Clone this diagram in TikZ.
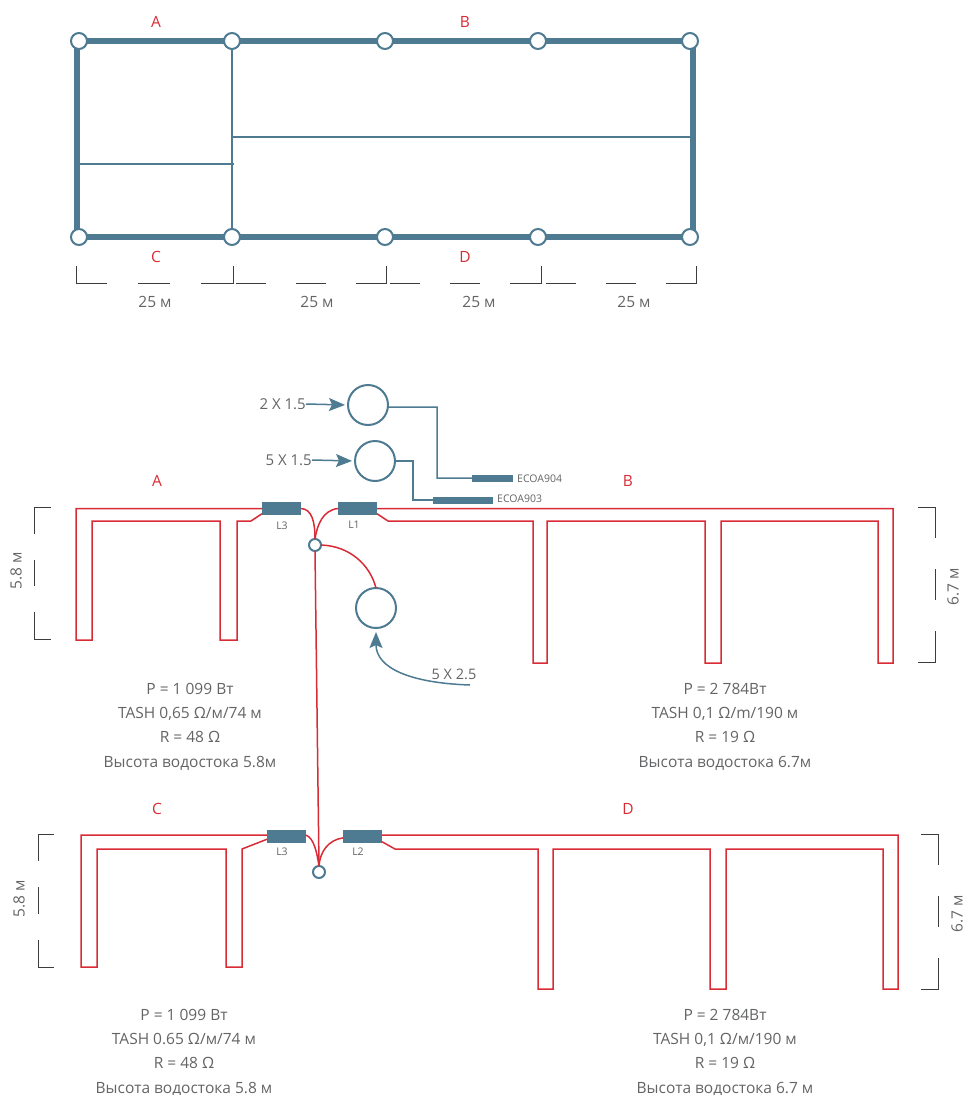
\documentclass[tikz,border=0pt]{standalone}
\usepackage{fontspec}
\setmainfont{Open Sans}
\usetikzlibrary{arrows.meta,shapes}

\definecolor{wallcol}{HTML}{4E7B91}
\definecolor{ductcol}{HTML}{D92B35}
\definecolor{textcol}{HTML}{636466}
\definecolor{markcol}{HTML}{3C3C3E}

\begin{document}
\begin{tikzpicture}[x=1pt,y=-1pt,>={Stealth[length=16pt,width=13pt,inset=3pt]}]
  \tikzset{
    post/.style={circle,draw=wallcol,fill=white,line width=2pt,minimum size=16pt,inner sep=0pt,outer sep=0pt},
    joint/.style={circle,draw=wallcol,fill=white,line width=2pt,minimum size=12pt,inner sep=0pt,outer sep=0pt},
    fan/.style={circle,draw=wallcol,line width=2pt,minimum size=40pt,inner sep=0pt,outer sep=0pt},
    wall/.style={draw=wallcol,line width=6.5pt},
    thin wall/.style={draw=wallcol,line width=1.5pt},
    duct/.style={draw=ductcol,line width=1.5pt},
    sensor/.style={fill=wallcol,minimum width=39pt,minimum height=13pt,inner sep=0pt,outer sep=0pt},
    probe/.style={fill=wallcol,minimum height=7pt,inner sep=0pt,outer sep=0pt},
    dimline/.style={draw=markcol,line width=1pt},
    zone/.style={text=ductcol,font=\fontsize{15.5}{17}\selectfont,inner sep=0pt},
    dimtext/.style={text=textcol,font=\fontsize{15.5}{17}\selectfont,inner sep=0pt},
    tag/.style={text=textcol,font=\fontsize{10.5}{12}\selectfont,inner sep=0pt},
    note/.style={text=textcol,font=\fontsize{15.5}{24.4}\selectfont,align=center,inner sep=0pt}
  }
  \useasboundingbox (0,0) rectangle (965,1095);

  % plan
  \coordinate (ltop) at (77,38);
  \coordinate (lbot) at (77,240);
  \coordinate (rtop) at (693,38);
  \coordinate (rbot) at (693,240);
  \coordinate (splita) at (78,164);
  \coordinate (splitb) at (234,164);
  \coordinate (splitc) at (233,137);
  \coordinate (splitd) at (691,137);
  \path[wall] (ltop) -- (lbot);
  \path[wall] (rtop) -- (rbot);
  \path[thin wall] (splita) -- (splitb);
  \path[thin wall] (splitc) -- (splitd);
  \node[post] (a1) at (79,41) {};
  \node[post] (a2) at (232,41) {};
  \node[post] (a3) at (385,41) {};
  \node[post] (a4) at (538,41) {};
  \node[post] (a5) at (690,41) {};
  \node[post] (c1) at (79,237) {};
  \node[post] (c2) at (232,237) {};
  \node[post] (c3) at (385,237) {};
  \node[post] (c4) at (538,237) {};
  \node[post] (c5) at (690,237) {};
  \path[wall] (a1) -- (a2);
  \path[wall] (a2) -- (a3);
  \path[wall] (a3) -- (a4);
  \path[wall] (a4) -- (a5);
  \path[wall] (c1) -- (c2);
  \path[wall] (c2) -- (c3);
  \path[wall] (c3) -- (c4);
  \path[wall] (c4) -- (c5);
  \path[thin wall] (a2) -- (c2);
  \node[zone] (za) at (156,22) {A};
  \node[zone] (zb) at (465,22) {B};
  \node[zone] (zc) at (156,257) {C};
  \node[zone] (zd) at (465,257) {D};

  \draw[dimline] (76,266) -- (76,283) -- (107,283);
  \draw[dimline] (138,283) -- (170,283);
  \draw[dimline] (201,283) -- (233,283) -- (233,266);
  \draw[dimline] (236,283) -- (266,283);
  \draw[dimline] (296,283) -- (326,283);
  \draw[dimline] (356,283) -- (386,283) -- (386,266);
  \draw[dimline] (390,283) -- (420,283);
  \draw[dimline] (450,283) -- (480,283);
  \draw[dimline] (510,283) -- (541,283) -- (541,266);
  \draw[dimline] (546,283) -- (576,283);
  \draw[dimline] (606,283) -- (636,283);
  \draw[dimline] (666,283) -- (696,283) -- (696,266);
  \node[dimtext] (w1) at (155,302) {25 м};
  \node[dimtext] (w2) at (317,302) {25 м};
  \node[dimtext] (w3) at (479,302) {25 м};
  \node[dimtext] (w4) at (634,302) {25 м};

  % upper layout
  \node[fan] (fan1) at (368,405) {};
  \node[fan] (fan2) at (375,461) {};
  \node[fan] (fan3) at (376,608) {};
  \node[probe,minimum width=41pt] (p904) at (492.5,478) {};
  \node[probe,minimum width=60pt] (p903) at (463,500) {};
  \node[tag,anchor=west] (t904) at (517,479) {ECOA904};
  \node[tag,anchor=west] (t903) at (497,499) {ECOA903};
  \node[dimtext,anchor=east,font=\fontsize{15}{17}\selectfont] (s1) at (306,404) {2 X 1.5};
  \node[dimtext,anchor=east,font=\fontsize{15}{17}\selectfont] (s2) at (312,460) {5 X 1.5};
  \node[dimtext,font=\fontsize{14.5}{17}\selectfont] (s3) at (454,674) {5 X 2.5};
  \coordinate (s3end) at (470,685);
  \path[thin wall,->,shorten >=3pt] (s1.east) -- (fan1.west);
  \path[thin wall,->,shorten >=3pt] (s2.east) -- (fan2.west);
  \path[thin wall,->,shorten >=4pt] (s3end) .. controls (410,683) and (376,668) .. (fan3.south);
  \path[thin wall] (fan1.-6) -- (437,407) -- (437,478) -- (p904.west);
  \path[thin wall] (fan2.east) -- (413,461) -- (413,500) -- (p903.west);

  \node[sensor] (la) at (281.5,508.5) {};
  \node[sensor] (lb) at (357.5,508.5) {};
  \node[joint] (j1) at (315,545) {};
  \node[tag] (tla) at (282,526) {L3};
  \node[tag] (tlb) at (354,525) {L1};
  \node[joint] (j2) at (319,872) {};
  \path[duct] (la.west) -- (76,508.5) -- (76,640) -- (92,640) -- (92,521) -- (220,521) -- (220,640) -- (237,640) -- (237,521) -- (251,521) -- (la.-165);
  \path[duct] (lb.east) -- (893,508.5) -- (893,663) -- (878,663) -- (878,521) -- (721,521) -- (721,663) -- (705,663) -- (705,521) -- (547,521) -- (547,663) -- (533,663) -- (533,521) -- (388,521) -- (lb.-15);
  \path[duct] (la.east) .. controls (312,509) and (315,522) .. (j1.north);
  \path[duct] (lb.west) .. controls (323,510) and (317,525) .. (j1.north);
  \path[duct] (j1.east) .. controls (350,546) and (370,565) .. (fan3.north);
  \path[duct] (j1.south) -- (j2.north);

  \node[zone] (ua) at (157,481) {A};
  \node[zone] (ub) at (628,481) {B};

  \draw[dimline] (51,507) -- (34,507) -- (34,534);
  \draw[dimline] (34,560) -- (34,586);
  \draw[dimline] (34,612) -- (34,639) -- (51,639);
  \draw[dimline] (918,507) -- (935,507) -- (935,538);
  \draw[dimline] (935,569) -- (935,600);
  \draw[dimline] (935,631) -- (935,662) -- (918,662);
  \node[dimtext,rotate=90] (h1) at (16,571) {5.8 м};
  \node[dimtext,rotate=90] (h2) at (953,587) {6.7 м};

  \node[note] (n1) at (190,726.5) {P = 1 099 Вт\\TASH 0,65 Ω/м/74 м\\R = 48 Ω\\Высота водостока 5.8м};
  \node[note] (n2) at (725,726.5) {P = 2 784Вт\\TASH 0,1 Ω/m/190 м\\R = 19 Ω\\Высота водостока 6.7м};

  % lower layout
  \node[sensor] (lc) at (286.5,836.5) {};
  \node[sensor] (ld) at (362.5,836.5) {};
  \node[tag] (tlc) at (282,852) {L3};
  \node[tag] (tld) at (358,852) {L2};
  \path[duct] (lc.176) -- (81,835) -- (81,967) -- (97,967) -- (97,849) -- (226,849) -- (226,967) -- (242,967) -- (242,849) -- (lc.-172);
  \path[duct] (ld.4) -- (898,835) -- (898,989) -- (883,989) -- (883,849) -- (726,849) -- (726,989) -- (710,989) -- (710,849) -- (553,849) -- (553,989) -- (538,989) -- (538,849) -- (395,849) -- (ld.-15);
  \path[duct] (lc.4) .. controls (314,838) and (317,853) .. (j2.north);
  \path[duct] (ld.-176) .. controls (328,840) and (320,852) .. (j2.north);

  \node[zone] (uc) at (157,809) {C};
  \node[zone] (ud) at (628,809) {D};

  \draw[dimline] (54,834) -- (38,834) -- (38,861);
  \draw[dimline] (38,887) -- (38,914);
  \draw[dimline] (38,940) -- (38,967) -- (54,967);
  \draw[dimline] (921,834) -- (938,834) -- (938,865);
  \draw[dimline] (938,896) -- (938,927);
  \draw[dimline] (938,958) -- (938,989) -- (921,989);
  \node[dimtext,rotate=90] (h3) at (19,899) {5.8 м};
  \node[dimtext,rotate=90] (h4) at (957,914) {6.7 м};

  \node[note] (n3) at (184,1052.5) {P = 1 099 Вт\\TASH 0.65 Ω/м/74 м\\R = 48 Ω\\Высота водостока 5.8 м};
  \node[note] (n4) at (725,1052.5) {P = 2 784Вт\\TASH 0,1 Ω/м/190 м\\R = 19 Ω\\Высота водостока 6.7 м};
\end{tikzpicture}
\end{document}
